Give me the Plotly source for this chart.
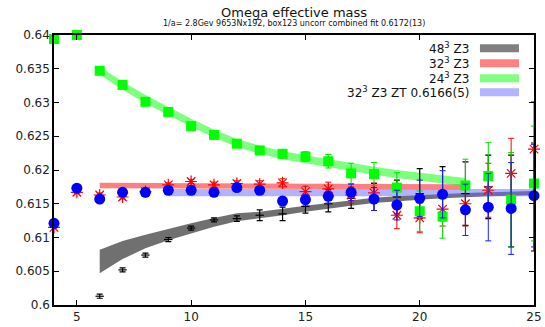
import plotly.graph_objects as go

# ---------------- data ----------------
t = list(range(4, 26))

# 48^3 Z3 (black, error bars only)
t48 = list(range(6, 26))
m48 = [0.6013, 0.6052, 0.6074, 0.6097, 0.6114, 0.6126, 0.6128, 0.6133, 0.6135, 0.6146,
       0.6150, 0.6158, 0.6160, 0.6160, 0.6165, 0.6165, 0.6165, 0.6175, 0.6154, 0.6160]
e48 = [0.0003, 0.0003, 0.0003, 0.0003, 0.0003, 0.0003, 0.0004, 0.0008, 0.0010, 0.0010,
       0.0012, 0.0015, 0.0020, 0.0025, 0.0037, 0.0040, 0.0047, 0.0047, 0.0068, 0.0080]

# 32^3 Z3 (red)
m32 = [0.6115, 0.6167, 0.6163, 0.6160, 0.6168, 0.6178, 0.6183, 0.6178, 0.6180, 0.6179,
       0.6181, 0.6168, 0.6172, 0.6163, 0.6166, 0.6133, 0.6129, 0.6142, 0.6150, 0.6170,
       0.6195, 0.6231]
e32 = [0.0002, 0.0002, 0.0003, 0.0003, 0.0003, 0.0003, 0.0003, 0.0004, 0.0004, 0.0005,
       0.0006, 0.0008, 0.0010, 0.0012, 0.0015, 0.0020, 0.0022, 0.0025, 0.0033, 0.0040,
       0.0052, 0.0070]

# 24^3 Z3 (green)
m24 = [0.6394, 0.6400, 0.6347, 0.6326, 0.6301, 0.6286, 0.6265, 0.6252, 0.6239, 0.6229,
       0.6224, 0.6220, 0.6213, 0.6195, 0.6194, 0.6174, 0.6139, 0.6131, 0.6177, 0.6191,
       0.6156, 0.6180]
e24 = [0.0002, 0.0002, 0.0002, 0.0002, 0.0002, 0.0003, 0.0003, 0.0003, 0.0004, 0.0005,
       0.0006, 0.0007, 0.0010, 0.0015, 0.0017, 0.0022, 0.0030, 0.0032, 0.0039, 0.0050,
       0.0070, 0.0085]

# 32^3 Z3 ZT (blue)
mzt = [0.6121, 0.6173, 0.6157, 0.6167, 0.6167, 0.6170, 0.6170, 0.6167, 0.6174, 0.6170,
       0.6154, 0.6156, 0.6161, 0.6167, 0.6157, 0.6148, 0.6158, 0.6164, 0.6141, 0.6145,
       0.6143, 0.6162]
ezt = [0.0002, 0.0002, 0.0002, 0.0003, 0.0003, 0.0003, 0.0003, 0.0003, 0.0004, 0.0004,
       0.0006, 0.0008, 0.0010, 0.0012, 0.0017, 0.0022, 0.0027, 0.0035, 0.0038, 0.0050,
       0.0068, 0.0076]

# fit bands
band48_t = list(range(6, 26))
band48_lo = [0.6047, 0.6068, 0.6084, 0.6096, 0.6106, 0.6116, 0.6124, 0.6128, 0.6133, 0.6138,
             0.6143, 0.6147, 0.6151, 0.6154, 0.6156, 0.6158, 0.6160, 0.6161, 0.6162, 0.6163]
band48_hi = [0.6082, 0.6095, 0.6104, 0.6113, 0.6121, 0.6129, 0.6136, 0.6138, 0.6143, 0.6147,
             0.6151, 0.6155, 0.6159, 0.6161, 0.6163, 0.6165, 0.6166, 0.6167, 0.6168, 0.6169]

band32_t = [6, 22]
band32_lo = [0.6173, 0.6171]
band32_hi = [0.6181, 0.6179]

band24_t = list(range(6, 23))
band24_lo = [0.6341, 0.6319, 0.6299, 0.6281, 0.6264, 0.6248, 0.6234, 0.6224, 0.6216, 0.6210,
             0.6204, 0.6198, 0.6193, 0.6188, 0.6184, 0.6180, 0.6176]
band24_hi = [0.6353, 0.6331, 0.6311, 0.6293, 0.6276, 0.6260, 0.6246, 0.6236, 0.6228, 0.6222,
             0.6216, 0.6210, 0.6205, 0.6200, 0.6196, 0.6192, 0.6188]

bandzt_t = [9, 25]
bandzt_lo = [0.6161, 0.6161]
bandzt_hi = [0.6172, 0.6172]

legend_labels = ["48<sup>3</sup> Z3", "32<sup>3</sup> Z3", "24<sup>3</sup> Z3",
                 "32<sup>3</sup> Z3 ZT 0.6166(5)"]

# ---------------- styles ----------------
c_gray = "rgba(0,0,0,0.56)"
c_red = "rgba(255,0,0,0.5)"
c_green = "rgba(0,255,0,0.5)"
c_blue = "rgba(102,102,255,0.5)"
font = "DejaVu Sans"

fig = go.Figure()


def add_band(xs, lo, hi, color):
    fig.add_trace(go.Scatter(x=xs, y=lo, mode="lines", line=dict(width=0, color=color),
                             showlegend=False, hoverinfo="skip"))
    fig.add_trace(go.Scatter(x=xs, y=hi, mode="lines", line=dict(width=0, color=color),
                             fill="tonexty", fillcolor=color, showlegend=False, hoverinfo="skip"))


add_band(band48_t, band48_lo, band48_hi, c_gray)
add_band(band32_t, band32_lo, band32_hi, c_red)
add_band(band24_t, band24_lo, band24_hi, c_green)
add_band(bandzt_t, bandzt_lo, bandzt_hi, c_blue)

fig.add_trace(go.Scatter(
    x=t48, y=m48, mode="markers", showlegend=False, cliponaxis=False,
    marker=dict(symbol="line-ew-open", size=6, line=dict(width=1.2, color="black"), color="black"),
    error_y=dict(type="data", array=e48, color="black", thickness=1.2, width=3)))

fig.add_trace(go.Scatter(
    x=t, y=m32, mode="markers", showlegend=False, cliponaxis=False,
    marker=dict(symbol="asterisk-open", size=10, line=dict(width=1.2, color="red"), color="red"),
    error_y=dict(type="data", array=e32, color="red", thickness=1, width=3)))

fig.add_trace(go.Scatter(
    x=t, y=m24, mode="markers", showlegend=False, cliponaxis=False,
    marker=dict(symbol="square", size=10, color="#00ff00", line=dict(width=0)),
    error_y=dict(type="data", array=e24, color="#00e000", thickness=1, width=3)))

fig.add_trace(go.Scatter(
    x=t, y=mzt, mode="markers", showlegend=False, cliponaxis=False,
    marker=dict(symbol="circle", size=11, color="#0000ff", line=dict(width=0)),
    error_y=dict(type="data", array=ezt, color="#1a1aff", thickness=1, width=3)))

# ---------------- custom legend (text left of swatch) ----------------
leg_colors = ["rgb(128,128,128)", "rgb(255,128,128)", "rgb(128,255,128)", "rgb(179,179,255)"]
leg_y = [0.9507, 0.8952, 0.8396, 0.7878]
for lab, col, yy in zip(legend_labels, leg_colors, leg_y):
    fig.add_annotation(x=0.8687, y=yy, xref="paper", yref="paper", text=lab,
                       showarrow=False, xanchor="right", yanchor="middle",
                       font=dict(family=font, size=12, color="#111"))
    fig.add_shape(type="rect", xref="paper", yref="paper", x0=0.8874, x1=0.9687,
                  y0=yy - 0.015, y1=yy + 0.015, fillcolor=col, line=dict(width=0))

# titles
fig.add_annotation(x=0.5, y=1, xref="paper", yref="paper", yshift=23, text="Omega effective mass",
                   showarrow=False, xanchor="center", yanchor="middle",
                   font=dict(family=font, size=13, color="#111"))
fig.add_annotation(x=0.5, y=1, xref="paper", yref="paper", yshift=12,
                   text="1/a= 2.8Gev 9653Nx192, box123 uncorr combined fit 0.6172(13)",
                   showarrow=False, xanchor="center", yanchor="middle",
                   font=dict(family=font, size=8, color="#111"))

axis_common = dict(showline=True, linecolor="black", linewidth=1.5, mirror="ticks",
                   ticks="inside", ticklen=5, tickcolor="black", tickwidth=1,
                   showgrid=False, zeroline=False, automargin=False,
                   tickfont=dict(family=font, size=12, color="#222"))

fig.update_layout(
    width=545, height=327,
    margin=dict(l=54, r=11, t=35, b=22),
    plot_bgcolor="white", paper_bgcolor="white",
    showlegend=False,
    xaxis=dict(range=[4, 25], tickvals=[5, 10, 15, 20, 25], **axis_common),
    yaxis=dict(range=[0.6, 0.64], tickvals=[0.6, 0.605, 0.61, 0.615, 0.62, 0.625, 0.63, 0.635, 0.64],
               ticktext=["0.6", "0.605", "0.61", "0.615", "0.62", "0.625", "0.63", "0.635", "0.64"],
               **axis_common),
)

fig.write_html("out.html")
